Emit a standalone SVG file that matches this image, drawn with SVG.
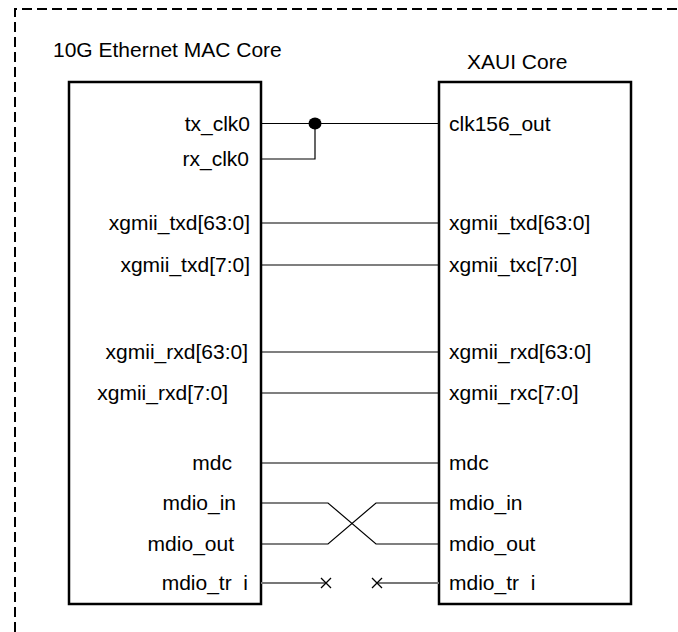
<svg xmlns="http://www.w3.org/2000/svg" width="678" height="632" viewBox="0 0 678 632">
<style>
.box{fill:#fff;stroke:#000;stroke-width:2.5}
.t{font-family:"Liberation Sans",Arial,sans-serif;font-size:21px;fill:#000}
.l{text-anchor:end}
.w{stroke:#000;stroke-width:1.2;fill:none}
.g{stroke:#777;stroke-width:2;fill:none}
.x{stroke:#000;stroke-width:1.3;fill:none}
</style>
<rect width="678" height="632" fill="#fff"/>
<path d="M15,632 V9 H678" fill="none" stroke="#000" stroke-width="2" stroke-dasharray="10,5"/>
<g id="mac">
<rect class="box" x="69" y="82" width="192" height="522"/>
<text class="t" x="53" y="57">10G Ethernet MAC Core</text>
<text class="t l" x="250" y="131">tx_clk0</text>
<text class="t l" x="249" y="166">rx_clk0</text>
<text class="t l" x="250" y="230">xgmii_txd[63:0]</text>
<text class="t l" x="250" y="272">xgmii_txd[7:0]</text>
<text class="t l" x="248" y="359">xgmii_rxd[63:0]</text>
<text class="t l" x="228" y="400">xgmii_rxd[7:0]</text>
<text class="t l" x="232" y="470">mdc</text>
<text class="t l" x="236" y="510">mdio_in</text>
<text class="t l" x="234" y="551">mdio_out</text>
<text class="t l" x="248" y="590">mdio_tr&#160; i</text>
</g>
<g id="xaui">
<rect class="box" x="439" y="82" width="192" height="522"/>
<text class="t" x="467" y="69">XAUI Core</text>
<text class="t" x="449" y="131">clk156_out</text>
<text class="t" x="449" y="230">xgmii_txd[63:0]</text>
<text class="t" x="449" y="272">xgmii_txc[7:0]</text>
<text class="t" x="449" y="359">xgmii_rxd[63:0]</text>
<text class="t" x="449" y="400">xgmii_rxc[7:0]</text>
<text class="t" x="449" y="470">mdc</text>
<text class="t" x="449" y="510">mdio_in</text>
<text class="t" x="449" y="551">mdio_out</text>
<text class="t" x="449" y="590">mdio_tr&#160; i</text>
</g>
<g id="connectors">
<path class="w" d="M261,123.5 H439"/>
<path class="w" d="M261,159 H315 V123.5"/>
<ellipse cx="315" cy="123.5" rx="6.5" ry="6" fill="#000"/>
<path class="w" d="M261,223 H439"/>
<path class="w" d="M261,265 H439"/>
<path class="w" d="M261,352 H439"/>
<path class="w" d="M261,393 H439"/>
<path class="w" d="M261,463 H439"/>
<path class="w" d="M261,503 H328 L376,544 H439"/>
<path class="w" d="M261,544 H328 L376,503 H439"/>
<path class="g" d="M261,583 H326"/>
<path class="g" d="M439,583 H377"/>
<path class="x" d="M321,578 L331,588 M321,588 L331,578"/>
<path class="x" d="M372,578 L382,588 M372,588 L382,578"/>
</g>
</svg>
